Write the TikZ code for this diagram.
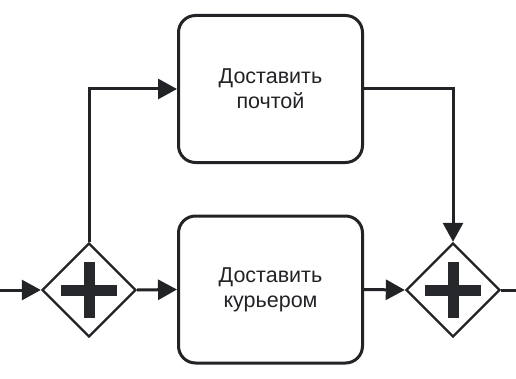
\documentclass[tikz,border=0pt]{standalone}
\usepackage{fontspec}
\setmainfont{Liberation Sans}
\usetikzlibrary{shapes.geometric, arrows.meta, positioning, calc}
\definecolor{inkdark}{RGB}{34, 35, 38}
\definecolor{plusdark}{RGB}{39, 40, 44}

\tikzset{
  taskbox/.style={draw=inkdark, line width=3pt, rounded corners=17pt, fill=white,
    minimum width=184pt, minimum height=147pt, align=center, inner sep=0pt,
    text=inkdark, font=\fontsize{21.5}{25}\selectfont},
  gatebox/.style={draw=inkdark, line width=2.4pt, diamond, aspect=1, fill=white,
    minimum width=94pt, minimum height=94pt, inner sep=0pt},
  flow/.style={draw=inkdark, line width=3pt, -{Triangle[length=19pt, width=20pt]}},
}

\begin{document}
\begin{tikzpicture}[x=1pt, y=1pt]
  \useasboundingbox (0,0) rectangle (516,378);

  % задачи
  \node[taskbox] (mail)    at (270.5, 289) {Доставить\\почтой};
  \node[taskbox] (courier) at (270.5, 88.5) {Доставить\\курьером};

  % шлюзы
  \node[gatebox] (split) at (89, 88) {};
  \node[gatebox] (join)  at (453, 88) {};
  \foreach \g in {split, join} {
    \fill[plusdark] ($(\g)+(-28,-5.5)$) rectangle ($(\g)+(28,5.5)$);
    \fill[plusdark] ($(\g)+(-5.5,-28)$) rectangle ($(\g)+(5.5,28)$);
  }

  % входящий и исходящий потоки
  \coordinate (in)  at (0, 88);
  \coordinate (out) at (516, 88);

  % потоки
  \draw[flow] (in) -- (split.west);
  \draw[flow] (split.north) |- (mail.west);
  \draw[flow] (split.east) -- (courier.west);
  \draw[flow] (mail.east) -| (join.north);
  \draw[flow] (courier.east) -- (join.west);
  \draw[draw=inkdark, line width=3pt] (join.east) -- (out);
\end{tikzpicture}
\end{document}
